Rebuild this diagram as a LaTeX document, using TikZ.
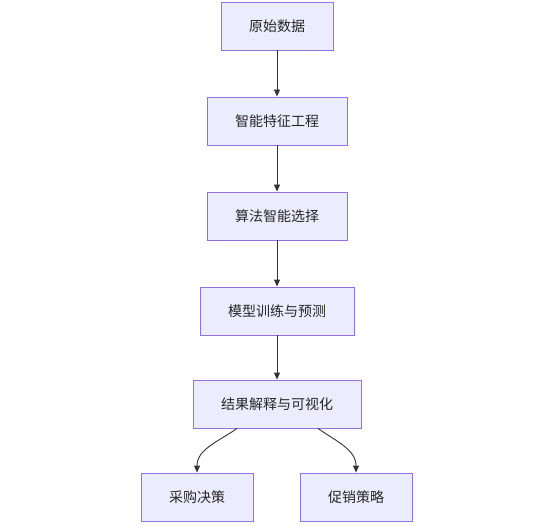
\documentclass[tikz,border=0pt]{standalone}
\usepackage{fontspec}
\newfontfamily\cjk{Noto Sans CJK SC}
\usetikzlibrary{arrows.meta,positioning,calc}

\definecolor{boxfill}{HTML}{ECECFF}
\definecolor{boxline}{HTML}{9370DB}
\definecolor{arrline}{HTML}{333333}

\begin{document}
\begin{tikzpicture}[
    x=1pt, y=-1pt,
    stepbox/.style={draw=boxline, fill=boxfill, line width=0.9pt, minimum height=48pt, inner xsep=28pt, align=center, font=\cjk\fontsize{14}{16}\selectfont, text=black!85},
    arr/.style={-{Triangle[length=7pt,width=6pt]}, draw=arrline, line width=0.9pt}
]
\useasboundingbox[fill=white] (0,0) rectangle (537,529);

\node[stepbox] (raw) at (277,26) {原始数据};
\node[stepbox] (feat) at (277,121) {智能特征工程};
\node[stepbox] (algo) at (277,216) {算法智能选择};
\node[stepbox] (train) at (277,311) {模型训练与预测};
\node[stepbox] (res) at (277,404) {结果解释与可视化};
\node[stepbox] (buy) at (197,497) {采购决策};
\node[stepbox] (promo) at (356,497) {促销策略};

\draw[arr] (raw) -- (feat);
\draw[arr] (feat) -- (algo);
\draw[arr] (algo) -- (train);
\draw[arr] (train) -- (res);
\draw[arr] ([xshift=-40pt]res.south) to[out=-145, in=90] (buy.north);
\draw[arr] ([xshift=41pt]res.south) to[out=-35, in=90] (promo.north);
\end{tikzpicture}
\end{document}
